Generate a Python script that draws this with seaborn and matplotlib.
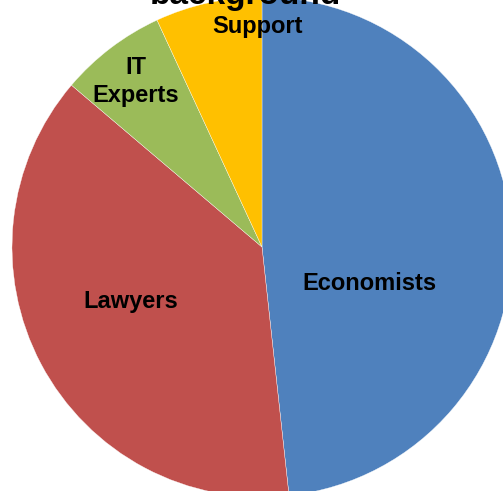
import matplotlib
matplotlib.use("Agg")
import matplotlib.pyplot as plt
import seaborn as sns

categories = ["Economists", "Lawyers", "IT\nExperts", "Support"]
counts = [14, 11, 2, 2]
title = "background"

colors = ["#4F81BD", "#C0504D", "#9BBB59", "#FFC000"]
# label anchor points (pie units, centre 0,0 radius 1), baseline of the last line
label_pos = [(0.431, -0.172), (-0.525, -0.244), (-0.504, 0.581), (-0.016, 0.856)]

sns.set_theme(style="white")
plt.rcParams["font.family"] = ["Liberation Sans", "DejaVu Sans"]

fig = plt.figure(figsize=(5.03, 4.91), dpi=100)
ax = fig.add_axes([0, 0, 1, 1])

wedges, _ = ax.pie(counts, colors=colors, startangle=90, counterclock=False,
                   radius=1, center=(0, 0),
                   wedgeprops=dict(edgecolor="white", linewidth=0.25))

for lab, (x, y) in zip(categories, label_pos):
    ax.text(x, y, lab, ha="center", va="baseline", fontsize=17,
            fontweight="bold", color="black", linespacing=1.25)

# pie is larger than the canvas; keep 250 px per unit on both axes
ax.set_xlim(-262 / 250, (503 - 262) / 250)
ax.set_ylim(-244 / 250, (491 - 244) / 250)
ax.set_aspect("auto")
ax.axis("off")

# the title sits mostly above the canvas, as in the original
fig.text(245 / 503, 487 / 491, title, ha="center", va="baseline",
         fontsize=24, fontweight="bold", color="black")

plt.savefig("out.png", dpi=100)
